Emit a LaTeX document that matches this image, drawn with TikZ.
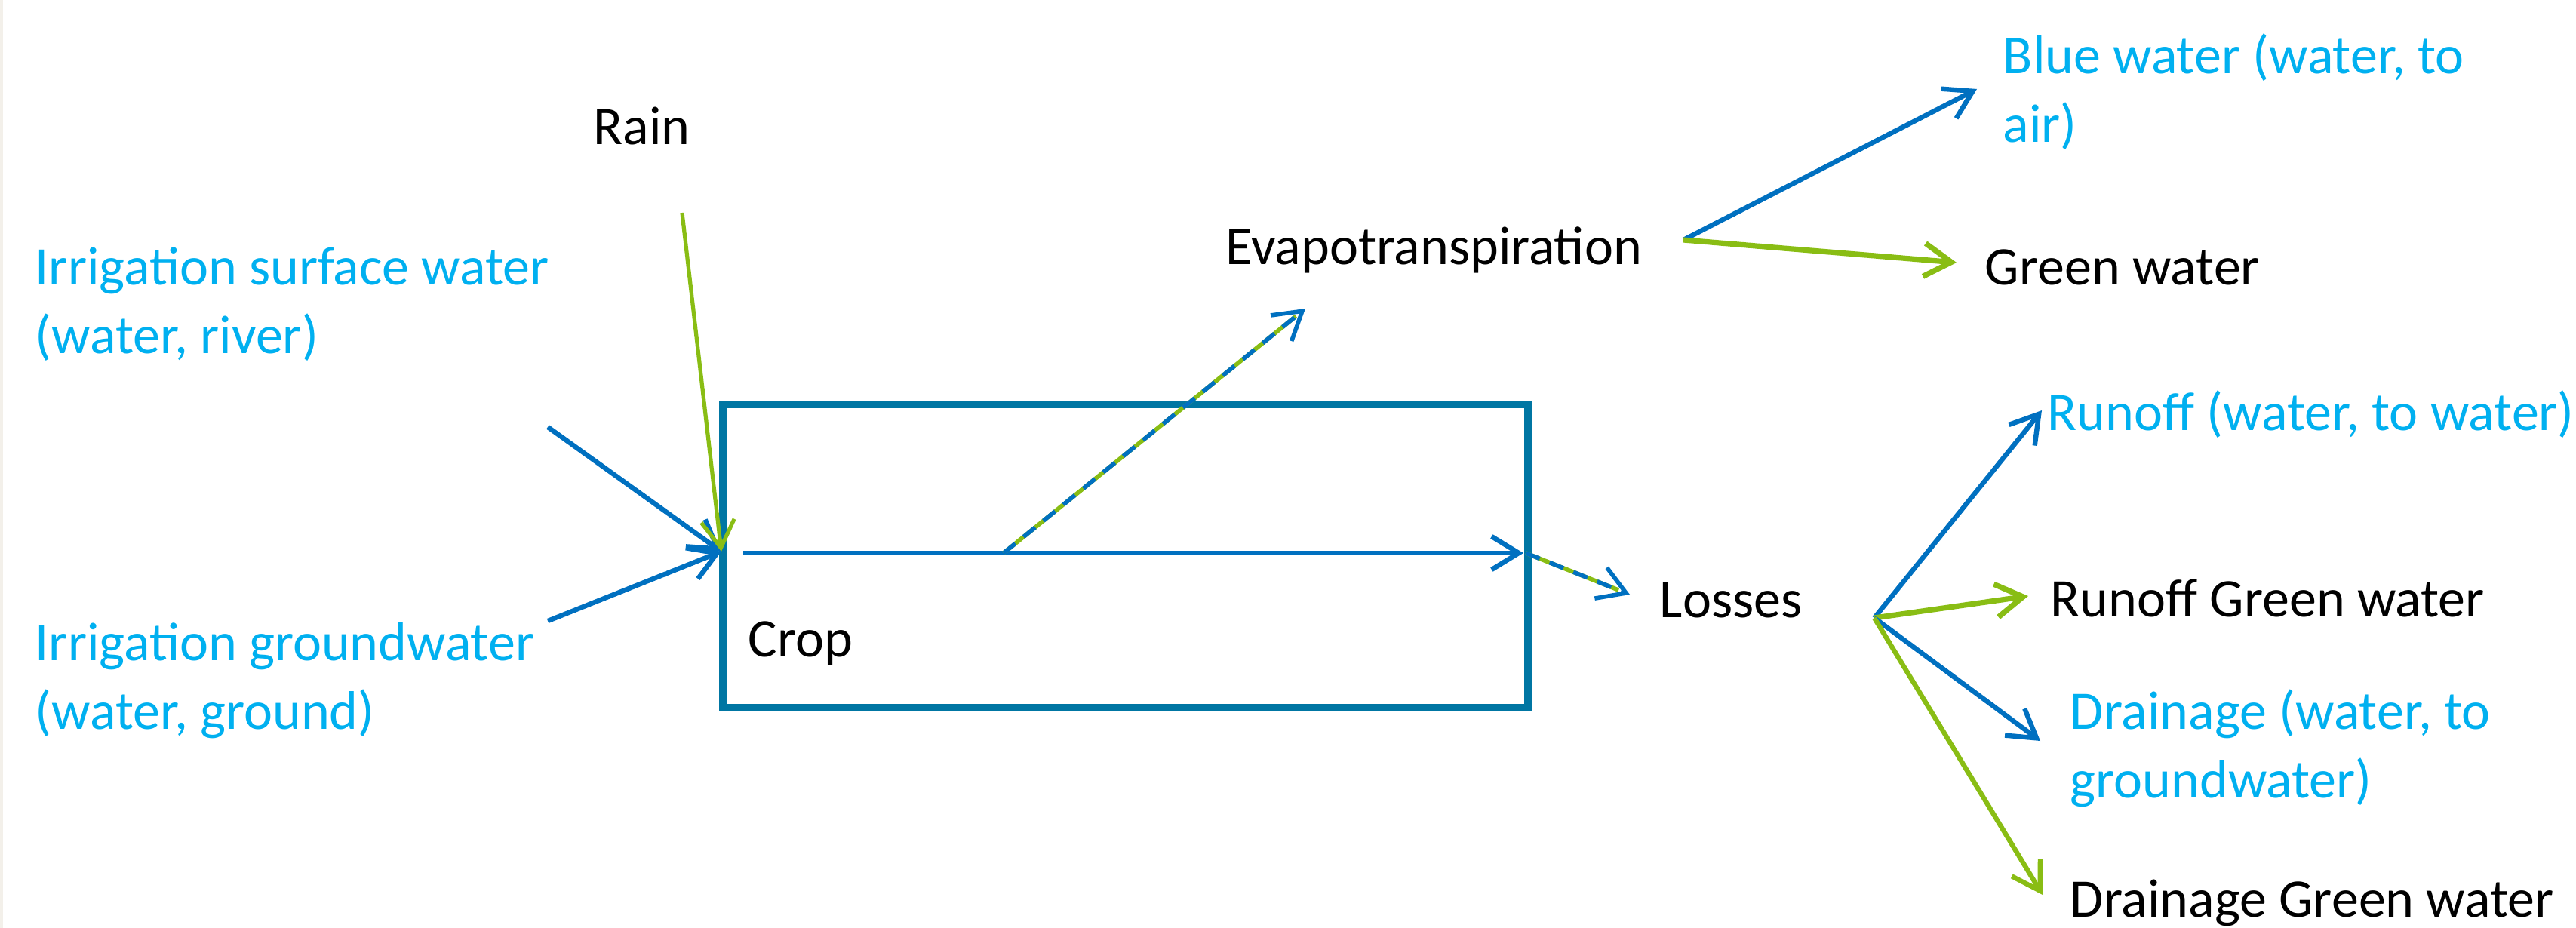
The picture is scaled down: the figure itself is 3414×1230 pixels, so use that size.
\documentclass[tikz,border=0pt]{standalone}
\usepackage{fontspec}
\setmainfont{Carlito}
\usetikzlibrary{arrows.meta}
\definecolor{arrowblue}{RGB}{0,112,192}
\definecolor{boxblue}{RGB}{0,118,163}
\definecolor{greenc}{RGB}{137,189,20}
\definecolor{textblue}{RGB}{0,176,240}
\definecolor{leftstripe}{RGB}{243,240,234}
\begin{document}
\begin{tikzpicture}[x=0.25pt,y=-0.25pt,
  lbl/.style={anchor=base west, inner sep=0pt, align=left, font=\fontsize{18}{22.75}\selectfont},
  bluetxt/.style={lbl, text=textblue},
  blacktxt/.style={lbl, text=black},
  headtip/.style={-{Straight Barb[length=9pt,width=11pt]}},
  blueflow/.style={draw=arrowblue, line width=1.6pt, headtip},
  greenflow/.style={draw=greenc, line width=1.6pt, headtip},
  mixbase/.style={draw=greenc, line width=1.4pt, shorten >=4pt},
  mixdash/.style={draw=arrowblue, line width=1.4pt, dash pattern=on 5pt off 3.5pt, headtip},
  boxline/.style={draw=boxblue, line width=2.5pt},
]
\useasboundingbox (0,0) rectangle (3414,1230);
\fill[white] (0,0) rectangle (3414,1230);
\fill[leftstripe] (0,0) rectangle (4,1230);

% crop box
\coordinate (boxNW) at (958,536);
\coordinate (boxSE) at (2025,938);
\draw[boxline] (boxNW) rectangle (boxSE);

% labels (multi-line labels are placed by the baseline of their last line)
\node[blacktxt] (rain) at (786,192) {Rain};
\node[bluetxt] (irs) at (46,468) {Irrigation surface water\\(water, river)};
\node[bluetxt] (irg) at (46,966) {Irrigation groundwater\\(water, ground)};
\node[blacktxt] (crop) at (991,870) {Crop};
\node[blacktxt] (evap) at (1624,350) {Evapotranspiration};
\node[bluetxt] (bluew) at (2654,189) {Blue water (water, to\\air)};
\node[blacktxt] (greenw) at (2630,377) {Green water};
\node[blacktxt] (losses) at (2199,818) {Losses};
\node[bluetxt] (runw) at (2713,570) {Runoff (water, to water)};
\node[blacktxt] (rung) at (2717,817) {Runoff Green water};
\node[bluetxt] (drw) at (2743,1057) {Drainage (water, to\\groundwater)};
\node[blacktxt] (drg) at (2743,1215) {Drainage Green water};

% connector points
\coordinate (rainS) at (904,282);
\coordinate (irsS) at (726,566);
\coordinate (irgS) at (726,823);
\coordinate (inP) at (956,731);
\coordinate (lineS) at (985,733);
\coordinate (lineE) at (2019,733);
\coordinate (evS) at (1330,733);
\coordinate (evE) at (1730,409);
\coordinate (loS) at (2022,733);
\coordinate (loE) at (2160,788);
\coordinate (etO) at (2231,318);
\coordinate (bluewP) at (2620,118);
\coordinate (greenwP) at (2593,348);
\coordinate (lO) at (2484,819);
\coordinate (runwP) at (2706,544);
\coordinate (rungP) at (2688,790);
\coordinate (drwP) at (2704,982);
\coordinate (drgP) at (2707,1186);

% inflows
\draw[blueflow] (irsS) -- (inP);
\draw[blueflow] (irgS) -- (inP);
\draw[draw=greenc, line width=1.3pt, headtip] (rainS) -- (inP);

% through the crop
\draw[blueflow] (lineS) -- (lineE);
\draw[mixbase] (evS) -- (evE);
\draw[mixdash] (evS) -- (evE);
\draw[mixbase] (loS) -- (loE);
\draw[mixdash] (loS) -- (loE);

% evapotranspiration split
\draw[blueflow] (etO) -- (bluewP);
\draw[greenflow, line width=1.8pt] (etO) -- (greenwP);

% losses split
\draw[blueflow] (lO) -- (runwP);
\draw[greenflow, line width=1.8pt] (lO) -- (rungP);
\draw[blueflow] (lO) -- (drwP);
\draw[greenflow] (lO) -- (drgP);
\end{tikzpicture}
\end{document}
